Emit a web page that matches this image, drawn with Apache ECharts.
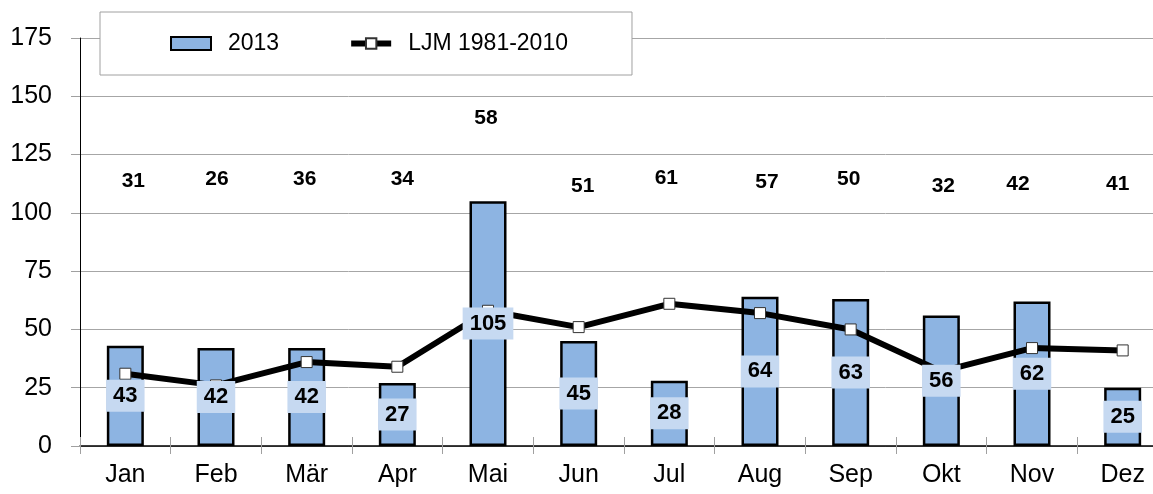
<!DOCTYPE html>
<html>
<head>
<meta charset="utf-8">
<script src="https://cdn.jsdelivr.net/npm/echarts@6/dist/echarts.min.js"></script>
<style>
  html, body { margin: 0; padding: 0; background: #fff; }
  #chart { width: 1153px; height: 494px; }
</style>
</head>
<body>
<div id="chart"></div>
<script>
// ---- data ----
var months = ['Jan', 'Feb', 'Mär', 'Apr', 'Mai', 'Jun', 'Jul', 'Aug', 'Sep', 'Okt', 'Nov', 'Dez'];
var values2013 = [43, 42, 42, 27, 105, 45, 28, 64, 63, 56, 62, 25];
var valuesLJM = [31, 26, 36, 34, 58, 51, 61, 57, 50, 32, 42, 41];
var yTicks = { min: 0, max: 175, interval: 25 };

// ---- layout / style ----
var FONT = 'Arial, "Liberation Sans", sans-serif';
var gridTop = 38, gridBottom = 48, chartH = 494;
var plotH = chartH - gridTop - gridBottom;
// target label positions (pixel) for the LJM labels: [dx, y]
var ljmLabelPos = [[8,181],[1,179],[-2,179],[5,179],[-2,118],[4,186],[-3,178],[7,182],[-2,179],[2,186],[-14,184],[-5,184]];

function pointY(v) { return gridTop + plotH * (1 - (v - yTicks.min) / (yTicks.max - yTicks.min)); }

var ljmData = valuesLJM.map(function (v, i) {
  var p = ljmLabelPos[i];
  return { value: v, label: { offset: [p[0], p[1] - pointY(v)] } };
});

var chart = echarts.init(document.getElementById('chart'));
chart.setOption({
  animation: false,
  backgroundColor: '#fff',
  textStyle: { fontFamily: FONT },
  grid: { left: 80, right: -15, top: gridTop, bottom: gridBottom, containLabel: false, outerBoundsMode: 'none' },
  legend: {
    data: [{ name: '2013', icon: 'rect' }, { name: 'LJM 1981-2010' }],
    left: 100, top: 12,
    padding: [20, 64, 20, 70],
    itemGap: 69,
    itemWidth: 40, itemHeight: 13,
    backgroundColor: '#fff',
    borderColor: '#a0a0a0', borderWidth: 1,
    lineStyle: { width: 6, color: '#000' },
    textStyle: { fontSize: 23, color: '#000', fontFamily: FONT, padding: [0, 0, 0, 12] },
    z: 10
  },
  xAxis: [{
    type: 'category',
    data: months,
    boundaryGap: true,
    axisLine: { lineStyle: { color: '#000', width: 1.5 } },
    axisTick: { show: true, interval: 0, length: 8, lineStyle: { color: '#a0a0a0' } },
    axisLabel: { fontSize: 25, color: '#000', margin: 17, fontFamily: FONT, interval: 0 },
    splitLine: { show: false }
  }, {
    type: 'category',
    data: months,
    position: 'bottom',
    boundaryGap: true,
    axisLine: { show: false },
    axisTick: { show: true, inside: true, interval: 0, length: 9, lineStyle: { color: '#a0a0a0' } },
    axisLabel: { show: false },
    splitLine: { show: false }
  }],
  yAxis: {
    type: 'value',
    min: yTicks.min, max: yTicks.max, interval: yTicks.interval,
    axisLine: { show: true, lineStyle: { color: '#000', width: 1 } },
    axisTick: { show: true, length: 9, lineStyle: { color: '#a0a0a0' } },
    axisLabel: { fontSize: 25, color: '#000', margin: 28, fontFamily: FONT },
    splitLine: { show: true, lineStyle: { color: '#a6a6a6', width: 1 } }
  },
  series: [{
    name: '2013',
    type: 'bar',
    data: values2013,
    barWidth: 37,
    itemStyle: { color: '#8db4e2', borderColor: '#000', borderWidth: 2.5 },
    z: 2
  }, {
    name: 'LJM 1981-2010',
    type: 'line',
    data: ljmData,
    symbol: 'rect',
    symbolSize: 11,
    lineStyle: { color: '#000', width: 6 },
    itemStyle: { color: '#fff', borderColor: '#333', borderWidth: 1 },
    label: { show: true, position: 'inside', fontSize: 21, fontWeight: 'bold', color: '#000', fontFamily: FONT },
    z: 3
  }, {
    name: 'labels2013',
    type: 'bar',
    data: values2013,
    barWidth: 37,
    barGap: '-100%',
    itemStyle: { color: 'rgba(0,0,0,0)' },
    label: {
      show: true, position: 'inside',
      fontSize: 22, fontWeight: 'bold', color: '#000', fontFamily: FONT,
      backgroundColor: '#c6d9f1', padding: [6, 7, 4, 7]
    },
    z: 5,
    silent: true
  }]
});
</script>
</body>
</html>
